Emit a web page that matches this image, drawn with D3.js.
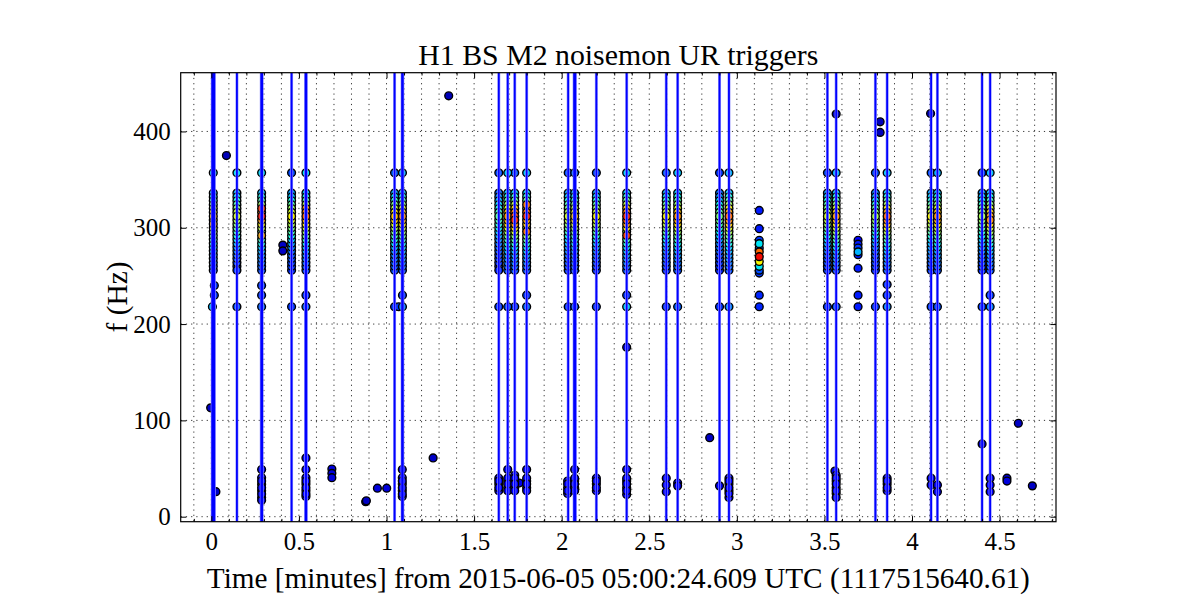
<!DOCTYPE html>
<html>
<head>
<meta charset="utf-8">
<script src="https://cdn.jsdelivr.net/npm/d3@7"></script>
<style>
  html, body { margin: 0; padding: 0; background: #fff; }
  svg { display: block; }
  text { font-family: "Liberation Serif", "DejaVu Serif", serif; fill: #000; }
</style>
</head>
<body>
<svg id="chart" width="1200" height="600"></svg>
<script>
// ---------------- data ----------------
const titleText = "H1 BS M2 noisemon UR triggers";
const xLabelText = "Time [minutes] from 2015-06-05 05:00:24.609 UTC (1117515640.61)";
const yLabelText = "f (Hz)";

const xTickValues = [0, 0.5, 1, 1.5, 2, 2.5, 3, 3.5, 4, 4.5];
const yTickValues = [0, 100, 200, 300, 400];

// frequency ladder of the dense trigger columns (Hz)
const ladderFreqs = [336,332,328,324,320,316,312,308,304,300,296,292,288,284,280,276,272,268,264,260,256];

// times (minutes) of the dense columns
const columnTimes = [0.011,0.146,0.287,0.458,0.540,1.046,1.091,1.641,1.692,1.732,1.800,2.037,2.074,2.198,2.371,2.597,2.662,2.901,2.955,3.517,3.567,3.791,3.858,4.109,4.145,4.400,4.446];

// SNR (colour value) of each dense column, top (336 Hz) to bottom (256 Hz)
const columnSnr = [
  [3.2,3.6,4.2,5.0,5.8,6.5,7.0,6.8,7.2,6.2,5.5,4.8,4.2,3.8,3.4,3.0,2.8,2.6,2.4,2.2,2.0],
  [3.0,3.4,3.8,4.4,5.2,5.8,6.0,5.6,5.0,4.6,4.2,3.8,3.4,3.0,2.6,2.4,2.2,2.0,1.9,1.8,1.8],
  [3.2,3.8,4.5,5.5,8.5,7.6,8.8,7.4,6.5,5.8,5.0,7.2,4.4,3.8,3.3,3.0,2.7,2.5,2.3,2.1,2.0],
  [2.8,3.2,3.8,4.6,5.4,6.0,6.5,6.2,5.6,5.0,4.4,3.8,3.3,2.9,2.6,2.4,2.2,2.0,1.9,1.8,1.7],
  [3.3,3.8,4.6,5.6,7.5,7.8,8.0,7.2,6.6,6.0,5.4,4.8,4.2,3.6,3.2,2.9,2.7,2.5,2.3,2.1,2.0],
  [3.0,3.5,4.2,5.0,5.8,6.6,7.0,6.8,6.2,5.6,5.0,4.4,3.9,3.5,3.1,2.8,2.6,2.4,2.2,2.1,2.0],
  [3.2,3.7,4.4,5.2,6.2,7.0,7.6,7.2,6.6,6.0,5.4,4.8,4.2,3.7,3.3,3.0,2.8,2.6,2.4,2.2,2.0],
  [2.2,2.6,3.0,3.4,3.8,4.2,4.5,4.3,4.0,3.6,3.2,2.9,2.6,2.4,2.2,2.0,1.9,1.8,1.7,1.6,1.6],
  [3.3,3.8,4.5,5.4,6.3,7.1,7.5,7.3,6.8,6.1,5.5,4.9,4.3,3.8,3.4,3.1,2.8,2.6,2.4,2.2,2.1],
  [3.4,4.0,4.8,5.8,6.9,7.8,8.4,8.6,7.6,6.8,6.0,5.2,4.6,4.0,3.5,3.1,2.9,2.7,2.5,2.3,2.1],
  [3.4,4.0,4.8,7.8,6.9,8.0,8.6,7.4,7.0,6.4,7.8,5.4,4.6,4.0,3.5,3.2,2.9,2.7,2.5,2.3,2.1],
  [2.8,3.2,3.8,4.4,5.0,5.6,6.0,5.8,5.2,4.7,4.2,3.7,3.3,3.0,2.7,2.5,2.3,2.1,2.0,1.9,1.8],
  [3.0,3.5,4.2,5.0,5.8,6.5,7.0,6.8,6.2,5.6,5.0,4.4,3.9,3.5,3.1,2.8,2.6,2.4,2.2,2.1,2.0],
  [2.9,3.3,3.9,4.6,5.3,6.0,6.5,6.2,5.7,5.1,4.5,4.0,3.5,3.1,2.8,2.6,2.4,2.2,2.0,1.9,1.8],
  [3.4,4.0,4.8,5.8,7.0,7.8,8.6,8.2,7.5,6.6,5.8,8.4,4.4,3.8,3.4,3.1,2.9,2.7,2.5,2.3,2.1],
  [3.0,3.4,4.0,4.7,5.4,6.0,6.5,6.3,5.8,5.2,4.6,4.0,3.5,3.1,2.8,2.6,2.4,2.2,2.0,1.9,1.8],
  [3.3,3.8,4.5,5.3,6.2,7.0,7.5,7.3,6.7,6.0,5.4,4.8,4.2,3.7,3.3,3.0,2.8,2.6,2.4,2.2,2.0],
  [2.4,2.8,3.2,3.7,4.2,4.7,5.0,4.8,4.4,4.0,3.6,3.2,2.9,2.6,2.4,2.2,2.0,1.9,1.8,1.7,1.6],
  [3.3,3.9,4.6,5.5,6.5,7.4,8.0,7.7,7.0,6.3,5.6,5.0,4.4,3.8,3.4,3.1,2.8,2.6,2.4,2.2,2.0],
  [2.8,3.2,3.8,4.4,5.0,5.6,6.0,5.8,5.3,4.8,4.3,3.8,3.4,3.0,2.7,2.5,2.3,2.1,2.0,1.9,1.8],
  [3.2,3.7,4.4,5.2,6.1,6.9,7.5,7.2,6.6,6.0,5.4,4.8,4.3,3.8,3.4,3.0,2.8,2.6,2.4,2.2,2.0],
  [2.6,3.0,3.5,4.0,4.6,5.1,5.5,5.3,4.9,4.4,4.0,3.5,3.1,2.8,2.5,2.3,2.1,2.0,1.9,1.8,1.7],
  [3.3,3.9,4.7,5.6,6.6,7.4,8.0,7.8,7.1,6.4,5.7,5.0,4.4,3.9,3.4,3.1,2.9,2.7,2.5,2.3,2.1],
  [2.9,3.3,3.9,4.6,5.3,6.0,6.5,6.3,5.8,5.2,4.6,4.0,3.5,3.1,2.8,2.6,2.4,2.2,2.0,1.9,1.8],
  [3.2,3.8,4.5,5.3,6.2,7.0,7.5,7.2,6.6,6.0,5.4,4.8,4.2,3.7,3.3,3.0,2.8,2.6,2.4,2.2,2.0],
  [2.6,3.0,3.5,4.1,4.7,5.2,5.5,5.3,4.9,4.5,4.0,3.6,3.2,2.9,2.6,2.4,2.2,2.0,1.9,1.8,1.7],
  [3.2,3.7,4.4,5.2,6.1,6.9,7.4,7.6,6.8,6.1,5.5,4.9,4.3,3.8,3.4,3.1,2.8,2.6,2.4,2.2,2.0]
];

// all other triggers: [time (min), frequency (Hz), snr]
const extraTriggers = [
  // 357 Hz row
  [0.011,357,3.5],[0.146,357,3.5],[0.287,357,3.5],[0.458,357,2.0],[0.540,357,3.5],
  [1.046,357,2.2],[1.091,357,3.0],[1.641,357,2.0],[1.692,357,3.3],[1.732,357,2.2],
  [1.800,357,3.2],[2.037,357,2.0],[2.074,357,2.2],[2.198,357,2.0],[2.371,357,3.3],
  [2.597,357,2.2],[2.662,357,3.2],[2.901,357,1.8],[2.955,357,3.0],[3.517,357,2.0],
  [3.567,357,3.0],[3.791,357,2.0],[3.858,357,3.2],[4.109,357,2.0],[4.145,357,3.0],
  [4.400,357,1.8],[4.446,357,3.2],
  // 218 Hz row
  [0.006,218,3.0],[0.146,218,2.0],[0.287,218,2.2],[0.458,218,1.8],[0.540,218,2.2],
  [1.046,218,1.8],[1.070,218,1.8],[1.091,218,2.5],[1.641,218,1.8],[1.692,218,2.0],
  [1.732,218,1.8],[1.800,218,2.3],[2.037,218,1.8],[2.074,218,2.0],[2.198,218,1.8],
  [2.371,218,3.3],[2.597,218,1.8],[2.662,218,2.2],[2.901,218,1.8],[2.955,218,2.5],
  [3.128,218,1.6],[3.517,218,1.8],[3.567,218,2.0],[3.692,218,1.5],[3.791,218,1.8],
  [3.858,218,2.5],[4.109,218,1.8],[4.145,218,2.0],[4.400,218,1.8],[4.446,218,2.5],
  // 230 / 240 Hz
  [0.017,230,1.8],[0.287,230,1.8],[0.540,230,1.8],[1.091,230,1.8],[1.800,230,1.8],
  [2.371,230,1.8],[3.128,230,1.6],[3.692,230,1.5],[3.858,230,1.8],[4.446,230,1.8],
  [0.017,240,1.8],[0.287,240,1.8],[3.858,241,1.8],
  // isolated cluster near 3.13 min
  [3.128,318,1.5],[3.128,299,1.5],[3.128,287,1.8],[3.128,283.5,3.5],[3.128,279,2.0],
  [3.128,275,8.0],[3.128,270,9.0],[3.128,265,6.5],[3.128,260,3.5],[3.128,256,2.0],[3.128,253,1.8],
  // isolated cluster near 3.69 min
  [3.692,287,1.2],[3.692,283,1.5],[3.692,279,1.8],[3.692,275,3.0],[3.692,272,1.5],[3.692,258,1.5],
  // dark pair near 0.41 min
  [0.408,282,0.6],[0.408,276,0.6],
  // high outliers
  [0.086,375,0.5],[1.355,437,0.5],[3.567,418,0.5],[3.818,410,0.5],[3.818,399,0.5],
  [4.106,418.6,0.5],[2.371,176,0.8],[-0.004,113,0.6],[0.026,26,0.6],
  // low-frequency triggers
  [0.287,49,1.0],[0.287,40.5,1.0],[0.287,37,1.1],[0.287,33.6,1.0],[0.287,30,1.2],
  [0.287,27,1.0],[0.287,23.5,1.1],[0.287,20,1.0],[0.287,17,1.0],
  [0.540,61,1.0],[0.540,49,1.1],[0.540,40.5,1.0],[0.540,37,1.2],[0.540,34,1.0],
  [0.540,30,1.1],[0.540,27,1.0],[0.540,23.5,1.2],[0.540,21,1.0],
  [0.688,49.5,0.8],[0.688,45,0.8],[0.688,40.5,0.8],
  [0.881,15.5,0.6],[0.885,16.5,0.6],[0.948,29.6,0.8],[1.001,29.6,0.8],
  [1.090,49,1.0],[1.090,40.5,1.0],[1.090,37,1.1],[1.090,34,1.0],[1.090,30,1.2],
  [1.090,27,1.0],[1.090,23.5,1.1],[1.090,21,1.0],
  [1.266,61,0.6],
  [1.641,40,1.0],[1.641,37,1.1],[1.641,34,1.0],[1.641,30,1.2],[1.641,27,1.0],
  [1.692,49,1.0],[1.692,40,1.1],[1.692,37,1.0],[1.692,34,1.2],[1.692,30,1.0],[1.692,27,1.1],
  [1.732,43,1.0],[1.732,40,1.1],[1.732,37,1.0],[1.732,34,1.2],[1.732,30,1.0],[1.732,27,1.1],
  [1.757,35,0.9],
  [1.800,49,1.0],[1.800,40,1.1],[1.800,37,1.0],[1.800,34,1.2],[1.800,30,1.0],[1.800,27,1.1],
  [2.034,37,1.0],[2.034,34,1.1],[2.034,30,1.0],[2.034,27,1.2],[2.034,24,1.0],
  [2.074,49,1.0],[2.074,40,1.1],[2.074,37,1.0],[2.074,34,1.2],[2.074,30,1.0],[2.074,27,1.1],
  [2.198,40,1.0],[2.198,37,1.1],[2.198,34,1.0],[2.198,30,1.2],[2.198,27,1.0],
  [2.371,49,1.0],[2.371,40,1.1],[2.371,37,1.0],[2.371,34,1.2],[2.371,30,1.0],[2.371,27,1.1],[2.371,23,1.0],
  [2.597,40,1.0],[2.597,33,1.1],[2.597,26,1.0],
  [2.662,35,1.0],[2.662,32,1.0],
  [2.845,82,0.6],
  [2.901,32,1.0],
  [2.955,40,1.0],[2.955,37,1.1],[2.955,34,1.0],[2.955,30,1.2],[2.955,27,1.0],[2.955,24,1.1],[2.955,20,1.0],
  [3.560,47.4,0.9],[3.567,43,1.0],[3.567,40,1.1],[3.567,37,1.0],[3.567,34,1.2],
  [3.567,30,1.0],[3.567,27,1.1],[3.567,24,1.0],[3.567,20,1.0],
  [3.858,40,1.0],[3.858,37,1.1],[3.858,34,1.0],[3.858,30,1.2],[3.858,27,1.0],
  [4.109,40,1.0],[4.109,33,1.0],
  [4.145,33,1.0],[4.145,26,1.0],
  [4.400,75.6,0.6],
  [4.446,40,1.0],[4.446,33,1.1],[4.446,26,1.0],
  [4.542,40,0.8],[4.542,37,0.8],
  [4.607,97,0.6],
  [4.687,32,0.6]
];

// times (minutes) of the vertical event markers
const eventTimes = [0.005,0.011,0.017,0.146,0.285,0.290,0.458,0.538,0.542,1.046,1.089,1.093,
  1.641,1.692,1.732,1.800,2.037,2.071,2.078,2.198,2.371,2.597,2.662,2.901,2.955,
  3.517,3.567,3.791,3.858,4.109,4.145,4.400,4.446];

// ---------------- drawing ----------------
const svg = d3.select("#chart");
const L = 180.7, R = 1056, T = 72.7, B = 521.7;

const x = d3.scaleLinear().domain([-0.175, 4.822]).range([L, R]);
const y = d3.scaleLinear().domain([-5.2, 461]).range([B, T]);

// jet colormap built from d3 linear scales
const jr = d3.scaleLinear().domain([0, 0.35, 0.66, 0.89, 1]).range([0, 0, 1, 1, 0.5]).clamp(true);
const jg = d3.scaleLinear().domain([0, 0.125, 0.375, 0.64, 0.91, 1]).range([0, 0, 1, 1, 0, 0]).clamp(true);
const jb = d3.scaleLinear().domain([0, 0.11, 0.34, 0.65, 1]).range([0.5, 1, 1, 0, 0]).clamp(true);
const snrScale = d3.scaleLinear().domain([0, 10]).range([0, 1]).clamp(true);
const jet = s => { const v = snrScale(s); return d3.rgb(jr(v) * 255, jg(v) * 255, jb(v) * 255).toString(); };

// grid
const gGrid = svg.append("g");
const minorX = d3.range(-1, 49).map(i => i / 10);
gGrid.selectAll("line.vg").data(minorX).enter().append("line")
  .attr("x1", d => x(d)).attr("x2", d => x(d)).attr("y1", T).attr("y2", B)
  .attr("stroke", "#000").attr("stroke-width", 0.8).attr("stroke-dasharray", "1.2,4");
gGrid.selectAll("line.hg").data(yTickValues).enter().append("line")
  .attr("x1", L).attr("x2", R).attr("y1", d => y(d)).attr("y2", d => y(d))
  .attr("stroke", "#000").attr("stroke-width", 0.8).attr("stroke-dasharray", "1.2,4");

// triggers
const points = [];
columnTimes.forEach((t, ci) => {
  ladderFreqs.forEach((f, fi) => points.push({t, f, s: columnSnr[ci][fi]}));
});
extraTriggers.forEach(d => points.push({t: d[0], f: d[1], s: d[2]}));
points.sort((a, b) => a.s - b.s);

svg.append("defs").append("clipPath").attr("id", "plotclip")
  .append("rect").attr("x", L).attr("y", T).attr("width", R - L).attr("height", B - T);

const gPlot = svg.append("g").attr("clip-path", "url(#plotclip)");
gPlot.selectAll("circle").data(points).enter().append("circle")
  .attr("cx", d => x(d.t)).attr("cy", d => y(d.f)).attr("r", 3.9)
  .attr("fill", d => jet(d.s)).attr("stroke", "#000").attr("stroke-width", 1.4);

// event lines (light fringe + solid core)
gPlot.selectAll("line.ef").data(eventTimes).enter().append("line")
  .attr("x1", d => x(d)).attr("x2", d => x(d)).attr("y1", T).attr("y2", B)
  .attr("stroke", "#9a9aff").attr("stroke-width", 3);
gPlot.selectAll("line.ec").data(eventTimes).enter().append("line")
  .attr("x1", d => x(d)).attr("x2", d => x(d)).attr("y1", T).attr("y2", B)
  .attr("stroke", "#0000ff").attr("stroke-width", 1.8);

// axes (inward ticks)
const fmt = d3.format("~g");
const styleAxis = g => { g.select(".domain").remove(); g.selectAll("line").attr("stroke", "#000").attr("stroke-width", 1); };
const minorTicks = minorX.filter(v => v >= -0.17 && Math.abs(v * 2 - Math.round(v * 2)) > 1e-6);

const gxb = svg.append("g").attr("transform", `translate(0,${B})`)
  .call(d3.axisBottom(x).tickValues(xTickValues).tickFormat(fmt).tickSize(-5.6).tickSizeOuter(0).tickPadding(11));
gxb.call(styleAxis);
gxb.selectAll("text").attr("font-size", 25).attr("font-family", "Liberation Serif");
svg.append("g").attr("transform", `translate(0,${B})`)
  .call(d3.axisBottom(x).tickValues(minorTicks).tickFormat("").tickSize(-2.8).tickSizeOuter(0))
  .call(styleAxis);
svg.append("g").attr("transform", `translate(0,${T})`)
  .call(d3.axisTop(x).tickValues(xTickValues).tickFormat("").tickSize(-5.6).tickSizeOuter(0))
  .call(styleAxis);
svg.append("g").attr("transform", `translate(0,${T})`)
  .call(d3.axisTop(x).tickValues(minorTicks).tickFormat("").tickSize(-2.8).tickSizeOuter(0))
  .call(styleAxis);

const gyl = svg.append("g").attr("transform", `translate(${L},0)`)
  .call(d3.axisLeft(y).tickValues(yTickValues).tickFormat(fmt).tickSize(-5.6).tickSizeOuter(0).tickPadding(10));
gyl.call(styleAxis);
gyl.selectAll("text").attr("font-size", 25).attr("font-family", "Liberation Serif");
svg.append("g").attr("transform", `translate(${R},0)`)
  .call(d3.axisRight(y).tickValues(yTickValues).tickFormat("").tickSize(-5.6).tickSizeOuter(0))
  .call(styleAxis);

// frame
svg.append("rect").attr("x", L).attr("y", T).attr("width", R - L).attr("height", B - T)
  .attr("fill", "none").attr("stroke", "#000").attr("stroke-width", 1.2);

// labels
svg.append("text").attr("x", (L + R) / 2).attr("y", 65).attr("text-anchor", "middle")
  .attr("font-size", 29).attr("textLength", 400).attr("lengthAdjust", "spacingAndGlyphs").text(titleText);
svg.append("text").attr("x", (L + R) / 2).attr("y", 588).attr("text-anchor", "middle")
  .attr("font-size", 29).attr("textLength", 823).attr("lengthAdjust", "spacingAndGlyphs").text(xLabelText);
svg.append("text").attr("transform", "translate(127,297) rotate(-90)").attr("text-anchor", "middle")
  .attr("font-size", 29).attr("textLength", 71).attr("lengthAdjust", "spacingAndGlyphs").text(yLabelText);
</script>
</body>
</html>
